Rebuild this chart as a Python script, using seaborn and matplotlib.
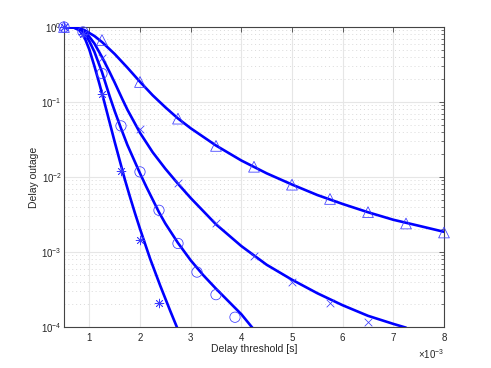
import numpy as np
import matplotlib
matplotlib.use("Agg")
import matplotlib.pyplot as plt
import seaborn as sns

# ---------------------------------------------------------------------------
# data (x in units of 1e-3 s)
# ---------------------------------------------------------------------------

# analytical curves (solid lines)
star_line_x = [0.5, 0.6, 0.7, 0.8, 0.9, 1.0, 1.1, 1.2, 1.3, 1.4, 1.5, 1.6, 1.7,
               1.8, 1.9, 2.0, 2.2, 2.4, 2.6, 2.8]
star_line_y = [1.0, 0.995, 0.977, 0.912, 0.741, 0.501, 0.302, 0.174, 0.0977,
               0.0537, 0.0295, 0.0166, 0.00933, 0.0055, 0.00331, 0.00204,
               0.000813, 0.000355, 0.000162, 7.6e-5]

circle_line_x = [0.5, 0.6, 0.7, 0.8, 0.9, 1.0, 1.1, 1.25, 1.4, 1.5, 1.625, 1.75,
                 2.0, 2.125, 2.375, 2.5, 2.75, 3.0, 3.25, 3.5, 3.75, 4.0, 4.25]
circle_line_y = [1.0, 0.995, 0.982, 0.933, 0.832, 0.646, 0.468, 0.251, 0.120,
                 0.0759, 0.0447, 0.0269, 0.0112, 0.00741, 0.00339, 0.0024,
                 0.00132, 0.000776, 0.00049, 0.000324, 0.000219, 0.000148, 9.2e-5]

cross_line_x = [0.5, 0.6, 0.7, 0.8, 0.9, 1.0, 1.1, 1.25, 1.4, 1.5, 1.65, 1.75,
                2.0, 2.25, 2.5, 2.75, 3.0, 3.5, 4.0, 4.5, 5.0, 5.5, 6.0, 6.5,
                7.0, 7.25]
cross_line_y = [1.0, 0.998, 0.989, 0.955, 0.871, 0.741, 0.603, 0.398, 0.251,
                0.182, 0.110, 0.0794, 0.0389, 0.0214, 0.0129, 0.00813, 0.00525,
                0.00234, 0.0012, 0.000676, 0.000427, 0.000282, 0.000195,
                0.000141, 0.00011, 9.8e-5]

tri_line_x = [0.5, 0.6, 0.7, 0.8, 0.9, 1.0, 1.1, 1.25, 1.5, 1.75, 2.0, 2.25,
              2.5, 2.75, 3.0, 3.5, 4.0, 4.5, 5.0, 5.5, 6.0, 6.5, 7.0, 7.5, 8.0]
tri_line_y = [1.0, 0.998, 0.991, 0.966, 0.912, 0.832, 0.759, 0.631, 0.437,
              0.288, 0.186, 0.123, 0.0851, 0.0603, 0.0447, 0.0263, 0.0166,
              0.0112, 0.00794, 0.00575, 0.00437, 0.00339, 0.00269, 0.00224,
              0.00186]

# simulated points (markers)
star_x = [0.5, 0.875, 1.25, 1.625, 2.0, 2.375]
star_y = [1.0, 0.80, 0.127, 0.012, 0.00145, 0.00021]

circle_x = [0.5, 0.875, 1.25, 1.625, 2.0, 2.375, 2.75, 3.125, 3.5, 3.875]
circle_y = [1.0, 0.86, 0.24, 0.048, 0.0117, 0.0036, 0.0013, 0.00054,
            0.00027, 0.000135]

cross_x = [0.5, 1.25, 2.0, 2.75, 3.5, 4.25, 5.0, 5.75, 6.5]
cross_y = [1.0, 0.39, 0.044, 0.0083, 0.0024, 0.00089, 0.0004, 0.00021,
           0.000117]

tri_x = [0.5, 1.25, 2.0, 2.75, 3.5, 4.25, 5.0, 5.75, 6.5, 7.25, 8.0]
tri_y = [1.0, 0.67, 0.185, 0.06, 0.026, 0.0137, 0.0079, 0.0051, 0.0034,
         0.0024, 0.00182]

x_ticks = [1, 2, 3, 4, 5, 6, 7, 8]
y_ticks = [1e-4, 1e-3, 1e-2, 1e-1, 1e0]

# ---------------------------------------------------------------------------
# style
# ---------------------------------------------------------------------------
sns.set_style("white")
plt.rcParams["font.family"] = ["Liberation Sans", "DejaVu Sans"]
plt.rcParams["mathtext.default"] = "regular"
plt.rcParams["font.size"] = 7

text_col = "#262626"
blue = "#0000ff"
mark_col = "#3a3aff"

fig = plt.figure(figsize=(4.91, 3.68), dpi=100)
ax = fig.add_axes([0.1303, 0.1114, 0.774, 0.8152])

# lines
for lx, ly in [(star_line_x, star_line_y), (circle_line_x, circle_line_y),
               (cross_line_x, cross_line_y), (tri_line_x, tri_line_y)]:
    sns.lineplot(x=lx, y=ly, ax=ax, color=blue, lw=1.9, sort=False,
                 estimator=None, zorder=3)

# markers
sns.scatterplot(x=star_x, y=star_y, ax=ax, marker=(8, 2, 0), s=40,
                color=mark_col, linewidth=0.55, zorder=4, clip_on=False)
sns.scatterplot(x=circle_x, y=circle_y, ax=ax, marker="o", s=55,
                facecolor="none", edgecolor=mark_col, linewidth=0.55, zorder=4,
                clip_on=False)
sns.scatterplot(x=cross_x, y=cross_y, ax=ax, marker="x", s=30,
                color=mark_col, linewidth=0.55, zorder=4, clip_on=False)
sns.scatterplot(x=tri_x, y=tri_y, ax=ax, marker="^", s=60,
                facecolor="none", edgecolor=mark_col, linewidth=0.55, zorder=4,
                clip_on=False)

ax.set_yscale("log")
ax.set_xlim(0.5, 8)
ax.set_ylim(1e-4, 1)
ax.set_xticks(x_ticks)
ax.set_xticklabels([str(t) for t in x_ticks])
ax.set_yticks(y_ticks)

ax.grid(True, which="major", color="#e6e6e6", lw=0.8, ls="-", zorder=0)
ax.yaxis.grid(True, which="minor", color="#dadada", lw=0.7, ls=(0, (1, 3)))
ax.set_axisbelow(True)

ax.tick_params(which="both", direction="in", top=True, right=True,
               colors="#444444", labelcolor=text_col, labelsize=7)
ax.tick_params(which="major", length=3.5, width=0.6)
ax.tick_params(which="minor", length=2, width=0.5)
ax.tick_params(axis="x", pad=4)
ax.tick_params(axis="y", pad=1.5)
for sp in ax.spines.values():
    sp.set_color("#444444")
    sp.set_linewidth(0.8)

ax.set_xlabel("Delay threshold [s]", color=text_col, fontsize=7.5)
ax.set_ylabel("Delay outage", color=text_col, fontsize=7.5)
ax.xaxis.set_label_coords(0.5, -0.055)
ax.yaxis.set_label_coords(-0.065, 0.5)
ax.text(1.0, -0.068, r"$\times10^{-3}$", transform=ax.transAxes,
        ha="right", va="top", color=text_col, fontsize=7)

fig.savefig("out.png", dpi=100)
